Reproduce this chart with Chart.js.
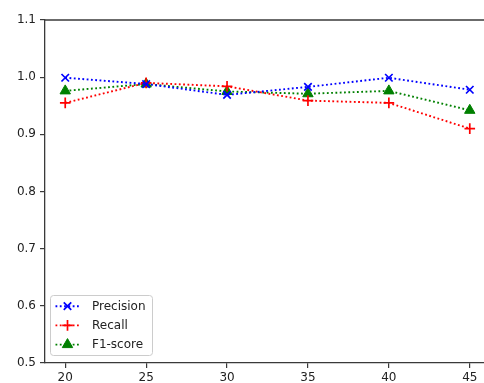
<!DOCTYPE html>
<html>
<head>
<meta charset="utf-8">
<script src="https://cdn.jsdelivr.net/npm/chart.js@4/dist/chart.umd.min.js"></script>
<style>
html,body{margin:0;padding:0;overflow:hidden;background:#fff;width:484px;height:383px;}
#wrap{width:484px;height:383px;overflow:hidden;}
canvas{display:block;}
</style>
</head>
<body>
<div id="wrap"><canvas id="c" width="500" height="383"></canvas></div>
<script>
// ---- data ----
const xValues = [20, 25, 30, 35, 40, 45];
const precision = [0.999, 0.988, 0.969, 0.983, 0.999, 0.978];
const recall    = [0.955, 0.990, 0.984, 0.959, 0.955, 0.910];
const f1score   = [0.976, 0.988, 0.975, 0.971, 0.976, 0.942];
const seriesNames = ['Precision', 'Recall', 'F1-score'];
const xTicks = [20, 25, 30, 35, 40, 45];
const yTicks = [0.5, 0.6, 0.7, 0.8, 0.9, 1.0, 1.1];

const FONT = "'DejaVu Sans', sans-serif";
const AXIS = '#3a3a3a';
const toPts = arr => arr.map((v, i) => ({x: xValues[i], y: v}));

const dotted = [1.8, 2.5];
const datasets = [
  {label: seriesNames[0], data: toPts(precision), borderColor: '#0000ff', backgroundColor: '#0000ff',
   pointStyle: 'crossRot', pointRadius: 5.3, pointBorderWidth: 1.7},
  {label: seriesNames[1], data: toPts(recall), borderColor: '#ff0000', backgroundColor: '#ff0000',
   pointStyle: 'cross', pointRadius: 5.3, pointBorderWidth: 1.7},
  {label: seriesNames[2], data: toPts(f1score), borderColor: '#008000', backgroundColor: '#008000',
   pointStyle: 'triangle', pointRadius: 6, pointBorderWidth: 1}
].map(d => Object.assign({borderWidth: 1.9, borderDash: dotted, fill: false, tension: 0, clip: false}, d));

const frameTop = {
  id: 'frameTop',
  afterDraw(chart) {
    const {ctx, chartArea: a} = chart;
    ctx.save();
    ctx.strokeStyle = AXIS; ctx.lineWidth = 1.3;
    ctx.beginPath(); ctx.moveTo(a.left, a.top); ctx.lineTo(a.right, a.top); ctx.stroke();
    ctx.restore();
  }
};

const insideLegend = {
  id: 'insideLegend',
  afterDatasetsDraw(chart) {
    const {ctx, chartArea: a} = chart;
    const bw = 102, bh = 60;
    const bx = a.left + 5.5, by = a.bottom - 7.5 - bh;
    ctx.save();
    ctx.beginPath();
    if (ctx.roundRect) ctx.roundRect(bx, by, bw, bh, 3); else ctx.rect(bx, by, bw, bh);
    ctx.fillStyle = 'rgba(255,255,255,0.85)';
    ctx.fill();
    ctx.strokeStyle = '#cccccc'; ctx.lineWidth = 1;
    ctx.stroke();
    chart.data.datasets.forEach((ds, i) => {
      const cy = by + 10.7 + i * 19.2;
      ctx.save();
      ctx.strokeStyle = ds.borderColor; ctx.lineWidth = ds.borderWidth;
      ctx.setLineDash(ds.borderDash);
      ctx.beginPath(); ctx.moveTo(bx + 5, cy); ctx.lineTo(bx + 29, cy); ctx.stroke();
      ctx.restore();
      ctx.save();
      ctx.strokeStyle = ds.borderColor; ctx.fillStyle = ds.backgroundColor;
      ctx.lineWidth = ds.pointBorderWidth;
      Chart.helpers.drawPoint(ctx, {pointStyle: ds.pointStyle, radius: ds.pointRadius, rotation: 0, borderWidth: ds.pointBorderWidth}, bx + 17, cy);
      ctx.restore();
      ctx.fillStyle = '#222';
      ctx.font = '12px ' + FONT;
      ctx.textBaseline = 'middle';
      ctx.textAlign = 'left';
      ctx.fillText(ds.label, bx + 41.5, cy + 0.5);
    });
    ctx.restore();
  }
};

new Chart(document.getElementById('c'), {
  type: 'line',
  data: {datasets},
  plugins: [frameTop, insideLegend],
  options: {
    responsive: false,
    animation: false,
    events: [],
    layout: {autoPadding: false, padding: {top: 20, right: 10, bottom: 0, left: 0}},
    plugins: {legend: {display: false}, tooltip: {enabled: false}},
    scales: {
      x: {
        type: 'linear', min: 18.75, max: 46.25,
        afterBuildTicks: s => { s.ticks = xTicks.map(v => ({value: v})); },
        afterFit: s => { s.height = 20; s.paddingLeft = 0; s.paddingRight = 0; },
        ticks: {color: '#222', font: {family: FONT, size: 12}, padding: 3, maxRotation: 0,
                callback: v => String(v)},
        grid: {drawOnChartArea: false, drawTicks: true, tickLength: 5, color: AXIS, lineWidth: 1.2},
        border: {display: true, color: AXIS, width: 1.3}
      },
      y: {
        type: 'linear', min: 0.5, max: 1.1,
        afterBuildTicks: s => { s.ticks = yTicks.map(v => ({value: v})); },
        afterFit: s => { s.width = 45; s.paddingTop = 0; s.paddingBottom = 0; },
        ticks: {color: '#222', font: {family: FONT, size: 12}, padding: 4,
                callback: v => Number(v).toFixed(1)},
        grid: {drawOnChartArea: false, drawTicks: true, tickLength: 5, color: AXIS, lineWidth: 1.2},
        border: {display: true, color: AXIS, width: 1.3}
      }
    }
  }
});
</script>
</body>
</html>
